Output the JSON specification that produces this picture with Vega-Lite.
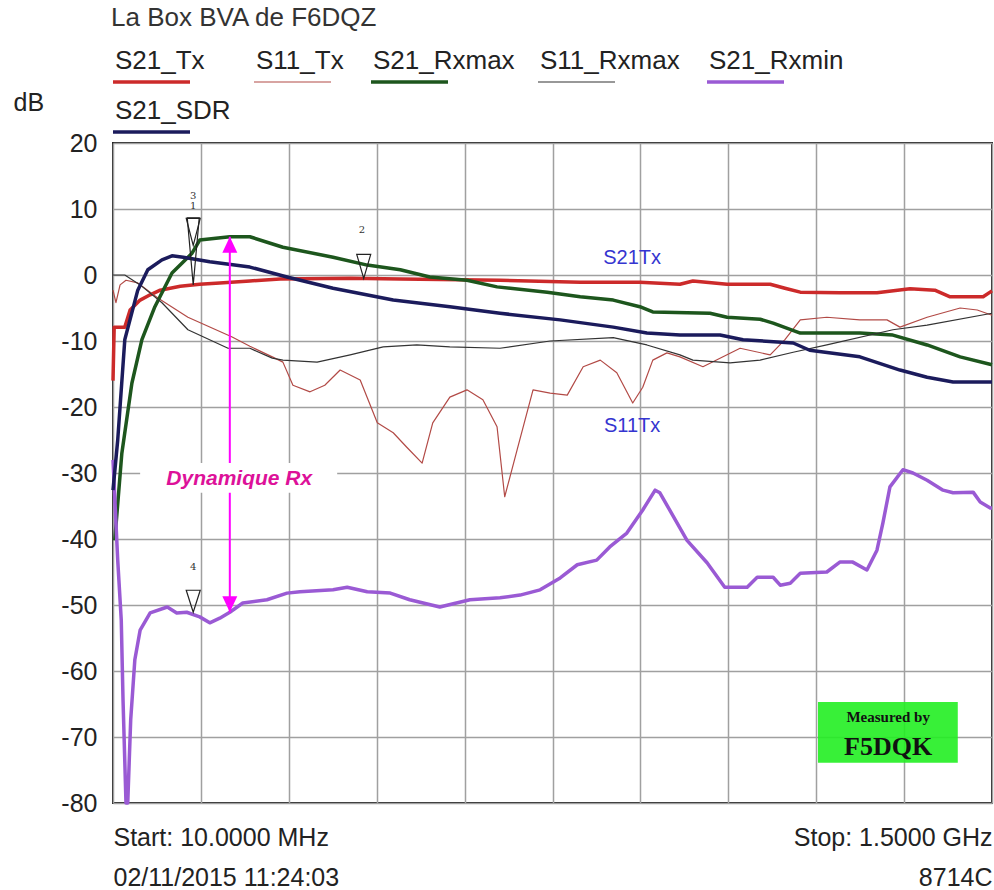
{
  "$schema": "https://vega.github.io/schema/vega-lite/v6.json",
  "width": 879,
  "height": 660,
  "autosize": {"type": "none"},
  "padding": {"left": 113, "top": 143, "right": 2, "bottom": 87},
  "background": "white",
  "config": {
    "font": "Liberation Sans",
    "view": {"stroke": "#222", "strokeWidth": 2},
    "axis": {"gridColor": "#a0a0a0", "gridWidth": 1.5, "gridOpacity": 1},
    "legend": {"gridAlign": "none"}
  },
  "resolve": {"scale": {"shape": "independent", "size": "independent"}},
  "data": {"values": [
    {"s":"S21_Tx","f":10,"dB":-16},{"s":"S21_Tx","f":12,"dB":-7.9},{"s":"S21_Tx","f":30,"dB":-7.9},{"s":"S21_Tx","f":39,"dB":-5.3},{"s":"S21_Tx","f":56,"dB":-3.8},{"s":"S21_Tx","f":73,"dB":-3.0},{"s":"S21_Tx","f":90,"dB":-2.3},{"s":"S21_Tx","f":124,"dB":-1.7},{"s":"S21_Tx","f":157,"dB":-1.4},{"s":"S21_Tx","f":191,"dB":-1.2},{"s":"S21_Tx","f":242,"dB":-0.9},{"s":"S21_Tx","f":293,"dB":-0.6},{"s":"S21_Tx","f":412,"dB":-0.5},{"s":"S21_Tx","f":497,"dB":-0.6},{"s":"S21_Tx","f":666,"dB":-0.8},{"s":"S21_Tx","f":802,"dB":-1.1},{"s":"S21_Tx","f":903,"dB":-1.1},{"s":"S21_Tx","f":971,"dB":-1.4},{"s":"S21_Tx","f":993,"dB":-0.9},{"s":"S21_Tx","f":1051,"dB":-1.4},{"s":"S21_Tx","f":1124,"dB":-1.4},{"s":"S21_Tx","f":1149,"dB":-2.0},{"s":"S21_Tx","f":1175,"dB":-2.6},{"s":"S21_Tx","f":1242,"dB":-2.7},{"s":"S21_Tx","f":1305,"dB":-2.7},{"s":"S21_Tx","f":1361,"dB":-2.1},{"s":"S21_Tx","f":1403,"dB":-2.3},{"s":"S21_Tx","f":1429,"dB":-3.3},{"s":"S21_Tx","f":1485,"dB":-3.3},{"s":"S21_Tx","f":1500,"dB":-2.4},

    {"s":"S11_Tx","f":10,"dB":-2.3},{"s":"S11_Tx","f":15,"dB":-4.2},{"s":"S11_Tx","f":22,"dB":-1.5},{"s":"S11_Tx","f":32,"dB":-0.8},{"s":"S11_Tx","f":52,"dB":-1.2},{"s":"S11_Tx","f":86,"dB":-3.5},{"s":"S11_Tx","f":137,"dB":-6.4},{"s":"S11_Tx","f":212,"dB":-9.4},{"s":"S11_Tx","f":242,"dB":-10.8},{"s":"S11_Tx","f":280,"dB":-12.4},{"s":"S11_Tx","f":298,"dB":-13.2},{"s":"S11_Tx","f":315,"dB":-16.7},{"s":"S11_Tx","f":344,"dB":-17.7},{"s":"S11_Tx","f":369,"dB":-16.7},{"s":"S11_Tx","f":395,"dB":-14.4},{"s":"S11_Tx","f":429,"dB":-15.9},{"s":"S11_Tx","f":458,"dB":-22.4},{"s":"S11_Tx","f":485,"dB":-23.9},{"s":"S11_Tx","f":508,"dB":-26.1},{"s":"S11_Tx","f":534,"dB":-28.5},{"s":"S11_Tx","f":552,"dB":-22.4},{"s":"S11_Tx","f":581,"dB":-18.5},{"s":"S11_Tx","f":610,"dB":-17.4},{"s":"S11_Tx","f":637,"dB":-18.9},{"s":"S11_Tx","f":661,"dB":-23.0},{"s":"S11_Tx","f":674,"dB":-33.6},{"s":"S11_Tx","f":695,"dB":-26.5},{"s":"S11_Tx","f":722,"dB":-17.4},{"s":"S11_Tx","f":751,"dB":-17.9},{"s":"S11_Tx","f":780,"dB":-18.2},{"s":"S11_Tx","f":807,"dB":-13.9},{"s":"S11_Tx","f":836,"dB":-12.9},{"s":"S11_Tx","f":864,"dB":-14.8},{"s":"S11_Tx","f":891,"dB":-19.4},{"s":"S11_Tx","f":908,"dB":-17.0},{"s":"S11_Tx","f":925,"dB":-12.9},{"s":"S11_Tx","f":949,"dB":-11.8},{"s":"S11_Tx","f":971,"dB":-12.4},{"s":"S11_Tx","f":1010,"dB":-13.9},{"s":"S11_Tx","f":1073,"dB":-11.1},{"s":"S11_Tx","f":1124,"dB":-12.1},{"s":"S11_Tx","f":1149,"dB":-9.8},{"s":"S11_Tx","f":1175,"dB":-6.8},{"s":"S11_Tx","f":1220,"dB":-6.4},{"s":"S11_Tx","f":1276,"dB":-6.8},{"s":"S11_Tx","f":1322,"dB":-6.8},{"s":"S11_Tx","f":1344,"dB":-7.9},{"s":"S11_Tx","f":1390,"dB":-6.4},{"s":"S11_Tx","f":1446,"dB":-5.0},{"s":"S11_Tx","f":1475,"dB":-5.3},{"s":"S11_Tx","f":1500,"dB":-6.1},

    {"s":"S21_Rxmax","f":13,"dB":-40.2},{"s":"S21_Rxmax","f":25,"dB":-27.0},{"s":"S21_Rxmax","f":42,"dB":-16.4},{"s":"S21_Rxmax","f":59,"dB":-9.8},{"s":"S21_Rxmax","f":81,"dB":-4.8},{"s":"S21_Rxmax","f":110,"dB":0.3},{"s":"S21_Rxmax","f":144,"dB":3.3},{"s":"S21_Rxmax","f":157,"dB":5.3},{"s":"S21_Rxmax","f":208,"dB":5.8},{"s":"S21_Rxmax","f":242,"dB":5.8},{"s":"S21_Rxmax","f":298,"dB":4.2},{"s":"S21_Rxmax","f":383,"dB":2.7},{"s":"S21_Rxmax","f":441,"dB":1.5},{"s":"S21_Rxmax","f":497,"dB":0.8},{"s":"S21_Rxmax","f":547,"dB":-0.3},{"s":"S21_Rxmax","f":610,"dB":-0.8},{"s":"S21_Rxmax","f":661,"dB":-1.8},{"s":"S21_Rxmax","f":746,"dB":-2.6},{"s":"S21_Rxmax","f":802,"dB":-3.3},{"s":"S21_Rxmax","f":858,"dB":-3.8},{"s":"S21_Rxmax","f":903,"dB":-4.8},{"s":"S21_Rxmax","f":925,"dB":-5.6},{"s":"S21_Rxmax","f":1022,"dB":-5.8},{"s":"S21_Rxmax","f":1051,"dB":-6.4},{"s":"S21_Rxmax","f":1107,"dB":-6.7},{"s":"S21_Rxmax","f":1129,"dB":-7.3},{"s":"S21_Rxmax","f":1175,"dB":-8.8},{"s":"S21_Rxmax","f":1276,"dB":-8.8},{"s":"S21_Rxmax","f":1332,"dB":-9.1},{"s":"S21_Rxmax","f":1390,"dB":-10.6},{"s":"S21_Rxmax","f":1446,"dB":-12.4},{"s":"S21_Rxmax","f":1500,"dB":-13.6},

    {"s":"S11_Rxmax","f":10,"dB":0},{"s":"S11_Rxmax","f":30,"dB":0},{"s":"S11_Rxmax","f":56,"dB":-1.5},{"s":"S11_Rxmax","f":93,"dB":-4.2},{"s":"S11_Rxmax","f":137,"dB":-8.3},{"s":"S11_Rxmax","f":205,"dB":-11.1},{"s":"S11_Rxmax","f":242,"dB":-11.1},{"s":"S11_Rxmax","f":280,"dB":-12.6},{"s":"S11_Rxmax","f":298,"dB":-12.9},{"s":"S11_Rxmax","f":356,"dB":-13.2},{"s":"S11_Rxmax","f":412,"dB":-12.1},{"s":"S11_Rxmax","f":468,"dB":-10.9},{"s":"S11_Rxmax","f":525,"dB":-10.6},{"s":"S11_Rxmax","f":581,"dB":-10.9},{"s":"S11_Rxmax","f":666,"dB":-11.1},{"s":"S11_Rxmax","f":751,"dB":-10.0},{"s":"S11_Rxmax","f":858,"dB":-9.5},{"s":"S11_Rxmax","f":915,"dB":-10.6},{"s":"S11_Rxmax","f":971,"dB":-12.1},{"s":"S11_Rxmax","f":993,"dB":-12.9},{"s":"S11_Rxmax","f":1056,"dB":-13.3},{"s":"S11_Rxmax","f":1107,"dB":-12.9},{"s":"S11_Rxmax","f":1163,"dB":-11.7},{"s":"S11_Rxmax","f":1220,"dB":-10.6},{"s":"S11_Rxmax","f":1332,"dB":-8.3},{"s":"S11_Rxmax","f":1390,"dB":-7.6},{"s":"S11_Rxmax","f":1500,"dB":-5.8},

    {"s":"S21_Rxmin","f":10,"dB":-28.0},{"s":"S21_Rxmin","f":18,"dB":-43.2},{"s":"S21_Rxmin","f":24,"dB":-52.3},{"s":"S21_Rxmin","f":27,"dB":-64.4},{"s":"S21_Rxmin","f":32,"dB":-80},{"s":"S21_Rxmin","f":35,"dB":-80},{"s":"S21_Rxmin","f":40,"dB":-67.4},{"s":"S21_Rxmin","f":47,"dB":-58.3},{"s":"S21_Rxmin","f":56,"dB":-53.8},{"s":"S21_Rxmin","f":73,"dB":-51.2},{"s":"S21_Rxmin","f":102,"dB":-50.3},{"s":"S21_Rxmin","f":118,"dB":-51.2},{"s":"S21_Rxmin","f":135,"dB":-51.1},{"s":"S21_Rxmin","f":157,"dB":-51.8},{"s":"S21_Rxmin","f":174,"dB":-52.7},{"s":"S21_Rxmin","f":191,"dB":-52.0},{"s":"S21_Rxmin","f":208,"dB":-51.1},{"s":"S21_Rxmin","f":230,"dB":-49.7},{"s":"S21_Rxmin","f":271,"dB":-49.2},{"s":"S21_Rxmin","f":305,"dB":-48.2},{"s":"S21_Rxmin","f":327,"dB":-48.0},{"s":"S21_Rxmin","f":383,"dB":-47.7},{"s":"S21_Rxmin","f":407,"dB":-47.3},{"s":"S21_Rxmin","f":441,"dB":-48.0},{"s":"S21_Rxmin","f":480,"dB":-48.2},{"s":"S21_Rxmin","f":513,"dB":-49.2},{"s":"S21_Rxmin","f":564,"dB":-50.3},{"s":"S21_Rxmin","f":615,"dB":-49.2},{"s":"S21_Rxmin","f":666,"dB":-48.9},{"s":"S21_Rxmin","f":700,"dB":-48.5},{"s":"S21_Rxmin","f":734,"dB":-47.7},{"s":"S21_Rxmin","f":768,"dB":-45.9},{"s":"S21_Rxmin","f":797,"dB":-43.9},{"s":"S21_Rxmin","f":830,"dB":-43.2},{"s":"S21_Rxmin","f":852,"dB":-41.2},{"s":"S21_Rxmin","f":881,"dB":-39.1},{"s":"S21_Rxmin","f":908,"dB":-35.6},{"s":"S21_Rxmin","f":929,"dB":-32.6},{"s":"S21_Rxmin","f":937,"dB":-33.0},{"s":"S21_Rxmin","f":983,"dB":-40.2},{"s":"S21_Rxmin","f":1017,"dB":-43.6},{"s":"S21_Rxmin","f":1047,"dB":-47.3},{"s":"S21_Rxmin","f":1085,"dB":-47.3},{"s":"S21_Rxmin","f":1102,"dB":-45.8},{"s":"S21_Rxmin","f":1129,"dB":-45.8},{"s":"S21_Rxmin","f":1141,"dB":-47.0},{"s":"S21_Rxmin","f":1158,"dB":-46.7},{"s":"S21_Rxmin","f":1175,"dB":-45.2},{"s":"S21_Rxmin","f":1220,"dB":-45.0},{"s":"S21_Rxmin","f":1242,"dB":-43.5},{"s":"S21_Rxmin","f":1264,"dB":-43.5},{"s":"S21_Rxmin","f":1288,"dB":-44.7},{"s":"S21_Rxmin","f":1305,"dB":-41.7},{"s":"S21_Rxmin","f":1315,"dB":-37.6},{"s":"S21_Rxmin","f":1327,"dB":-32.1},{"s":"S21_Rxmin","f":1349,"dB":-29.5},{"s":"S21_Rxmin","f":1366,"dB":-30.0},{"s":"S21_Rxmin","f":1390,"dB":-31.1},{"s":"S21_Rxmin","f":1417,"dB":-32.6},{"s":"S21_Rxmin","f":1434,"dB":-33.0},{"s":"S21_Rxmin","f":1468,"dB":-32.9},{"s":"S21_Rxmin","f":1480,"dB":-34.4},{"s":"S21_Rxmin","f":1497,"dB":-35.3},{"s":"S21_Rxmin","f":1500,"dB":-35.3},

    {"s":"S21_SDR","f":10,"dB":-32.6},{"s":"S21_SDR","f":18,"dB":-25.0},{"s":"S21_SDR","f":30,"dB":-9.8},{"s":"S21_SDR","f":52,"dB":-2.3},{"s":"S21_SDR","f":69,"dB":0.8},{"s":"S21_SDR","f":93,"dB":2.3},{"s":"S21_SDR","f":110,"dB":2.9},{"s":"S21_SDR","f":129,"dB":2.7},{"s":"S21_SDR","f":174,"dB":2.0},{"s":"S21_SDR","f":242,"dB":1.2},{"s":"S21_SDR","f":305,"dB":-0.3},{"s":"S21_SDR","f":383,"dB":-2.0},{"s":"S21_SDR","f":485,"dB":-3.8},{"s":"S21_SDR","f":581,"dB":-4.8},{"s":"S21_SDR","f":666,"dB":-5.8},{"s":"S21_SDR","f":768,"dB":-6.8},{"s":"S21_SDR","f":858,"dB":-7.9},{"s":"S21_SDR","f":915,"dB":-8.8},{"s":"S21_SDR","f":971,"dB":-9.1},{"s":"S21_SDR","f":1039,"dB":-9.1},{"s":"S21_SDR","f":1078,"dB":-9.8},{"s":"S21_SDR","f":1163,"dB":-10.3},{"s":"S21_SDR","f":1191,"dB":-11.4},{"s":"S21_SDR","f":1276,"dB":-12.4},{"s":"S21_SDR","f":1344,"dB":-14.4},{"s":"S21_SDR","f":1390,"dB":-15.5},{"s":"S21_SDR","f":1434,"dB":-16.2},{"s":"S21_SDR","f":1500,"dB":-16.2}
  ]},
  "encoding": {
    "x": {
      "field": "f", "type": "quantitative",
      "scale": {"domain": [10, 1500], "nice": false, "zero": false},
      "axis": {
        "title": null,
        "values": [10, 159, 308, 457, 606, 755, 904, 1053, 1202, 1351, 1500],
        "grid": true, "ticks": false, "domain": false,
        "labelExpr": "datum.value < 100 ? ['Start: 10.0000 MHz', '02/11/2015 11:24:03'] : (datum.value > 1400 ? ['Stop: 1.5000 GHz', '8714C'] : '')",
        "labelAlign": {"condition": {"test": "datum.value < 100", "value": "left"}, "value": "right"},
        "labelBaseline": "top",
        "labelPadding": 22,
        "labelLineHeight": 40,
        "labelFontSize": 25,
        "labelColor": "#222",
        "labelLimit": 0,
        "labelFlush": false,
        "labelOverlap": false,
        "labelBound": false
      }
    },
    "y": {
      "field": "dB", "type": "quantitative",
      "scale": {"domain": [-80, 20], "nice": false, "zero": false},
      "axis": {
        "title": "dB",
        "titleAngle": 0, "titleX": -100, "titleY": -41,
        "titleAlign": "left", "titleBaseline": "middle",
        "titleFontSize": 25, "titleFontWeight": "normal", "titleColor": "#222",
        "values": [-80, -70, -60, -50, -40, -30, -20, -10, 0, 10, 20],
        "labelExpr": "'' + datum.value",
        "grid": true, "ticks": false, "domain": false,
        "labelPadding": 16, "labelFontSize": 25, "labelColor": "#222",
        "labelFlush": false, "labelOverlap": false
      }
    }
  },
  "layer": [
    {
      "mark": {"type": "line", "strokeJoin": "round"},
      "encoding": {
        "color": {
          "field": "s", "type": "nominal",
          "scale": {
            "domain": ["S21_Tx", "S11_Tx", "S21_Rxmax", "S11_Rxmax", "S21_Rxmin", "S21_SDR"],
            "range": ["#cc2a2a", "#b24a46", "#1d561d", "#333333", "#9a5ad4", "#1b1b5c"]
          },
          "legend": {
            "title": "La Box BVA de F6DQZ",
            "orient": "none", "legendX": -2, "legendY": -138,
            "direction": "horizontal", "columns": 5, "gridAlign": "none",
            "columnPadding": 20, "rowPadding": 9,
            "symbolType": "stroke", "symbolSize": 5929,
            "labelOffset": -77, "labelLimit": 0,
            "labelFontSize": 26, "labelColor": "#222",
            "titleFontSize": 26, "titleFontWeight": "normal", "titleColor": "#333",
            "titleLimit": 0, "titlePadding": 17,
            "encode": {
              "labels": {"update": {"y": {"value": 13}}},
              "symbols": {"update": {"y": {"value": 34}}}
            }
          }
        },
        "strokeWidth": {
          "field": "s", "type": "nominal",
          "scale": {
            "type": "ordinal",
            "domain": ["S21_Tx", "S11_Tx", "S21_Rxmax", "S11_Rxmax", "S21_Rxmin", "S21_SDR"],
            "range": [3.5, 1.2, 3.5, 1.2, 3.5, 3.5]
          },
          "legend": null
        }
      }
    },
    {
      "data": {"values": [{"f": 208, "dB": 5.8, "dB2": -51.1}]},
      "mark": {"type": "rule", "color": "#ff00ff", "strokeWidth": 2},
      "encoding": {"y2": {"field": "dB2"}}
    },
    {
      "data": {"values": [{"f": 208, "dB": 5.8, "k": "up"}, {"f": 208, "dB": -51.1, "k": "down"}]},
      "mark": {"type": "point", "filled": true, "color": "#ff00ff", "opacity": 1, "size": 400},
      "encoding": {
        "shape": {"field": "k", "type": "nominal", "legend": null,
          "scale": {"domain": ["up", "down"], "range": ["M0,0L0.75,1.6L-0.75,1.6Z", "M0,0L0.75,-1.6L-0.75,-1.6Z"]}}
      }
    },
    {
      "data": {"values": [{"f": 56, "f2": 390, "dB": -28.5, "dB2": -33.0}]},
      "mark": {"type": "rect", "color": "white"},
      "encoding": {"x2": {"field": "f2"}, "y2": {"field": "dB2"}}
    },
    {
      "data": {"values": [{"f": 224, "dB": -30.9, "t": "Dynamique Rx"}]},
      "mark": {"type": "text", "fontSize": 21, "fontWeight": "bold", "fontStyle": "italic", "color": "#dd1199", "align": "center", "baseline": "middle"},
      "encoding": {"text": {"field": "t"}}
    },
    {
      "data": {"values": [{"id": "1", "f": 146, "dB": -1.5}, {"id": "3", "f": 146, "dB": 4.5}, {"id": "2", "f": 435, "dB": -0.5}, {"id": "4", "f": 146, "dB": -51.1}]},
      "mark": {"type": "point", "filled": false, "color": "#222", "strokeWidth": 1.2, "size": 400, "opacity": 1},
      "encoding": {
        "shape": {"field": "id", "type": "nominal", "legend": null,
          "scale": {"domain": ["1", "2", "3", "4"], "range": ["M-0.6,-6.7L0.6,-6.7L0,0Z", "M-0.7,-2.4L0.7,-2.4L0,0Z", "M-0.7,-2.7L0.7,-2.7L0,0Z", "M-0.7,-2.2L0.7,-2.2L0,0Z"]}}
      }
    },
    {
      "data": {"values": [{"t": "3", "f": 146, "dB": 12.0}, {"t": "1", "f": 146, "dB": 10.5}, {"t": "2", "f": 432, "dB": 6.8}, {"t": "4", "f": 146, "dB": -44.2}]},
      "mark": {"type": "text", "font": "DejaVu Serif", "fontSize": 10, "color": "#333", "align": "center", "baseline": "middle"},
      "encoding": {"text": {"field": "t"}}
    },
    {
      "data": {"values": [{"t": "S21Tx", "f": 890, "dB": 2.6}, {"t": "S11Tx", "f": 890, "dB": -22.9}]},
      "mark": {"type": "text", "fontSize": 20, "color": "#3535d0", "align": "center", "baseline": "middle"},
      "encoding": {"text": {"field": "t"}}
    },
    {
      "data": {"values": [{"f": 1205, "f2": 1442, "dB": -64.7, "dB2": -73.9}]},
      "mark": {"type": "rect", "color": "#22ee22", "opacity": 0.9},
      "encoding": {"x2": {"field": "f2"}, "y2": {"field": "dB2"}}
    },
    {
      "data": {"values": [{"t": "Measured by", "f": 1324, "dB": -66.9, "k": "a"}, {"t": "F5DQK", "f": 1324, "dB": -71.5, "k": "b"}]},
      "mark": {"type": "text", "font": "Liberation Serif", "fontWeight": "bold", "color": "#111", "align": "center", "baseline": "middle"},
      "encoding": {
        "text": {"field": "t"},
        "size": {"field": "k", "type": "nominal", "legend": null, "scale": {"type": "ordinal", "domain": ["a", "b"], "range": [15, 26]}}
      }
    }
  ]
}
